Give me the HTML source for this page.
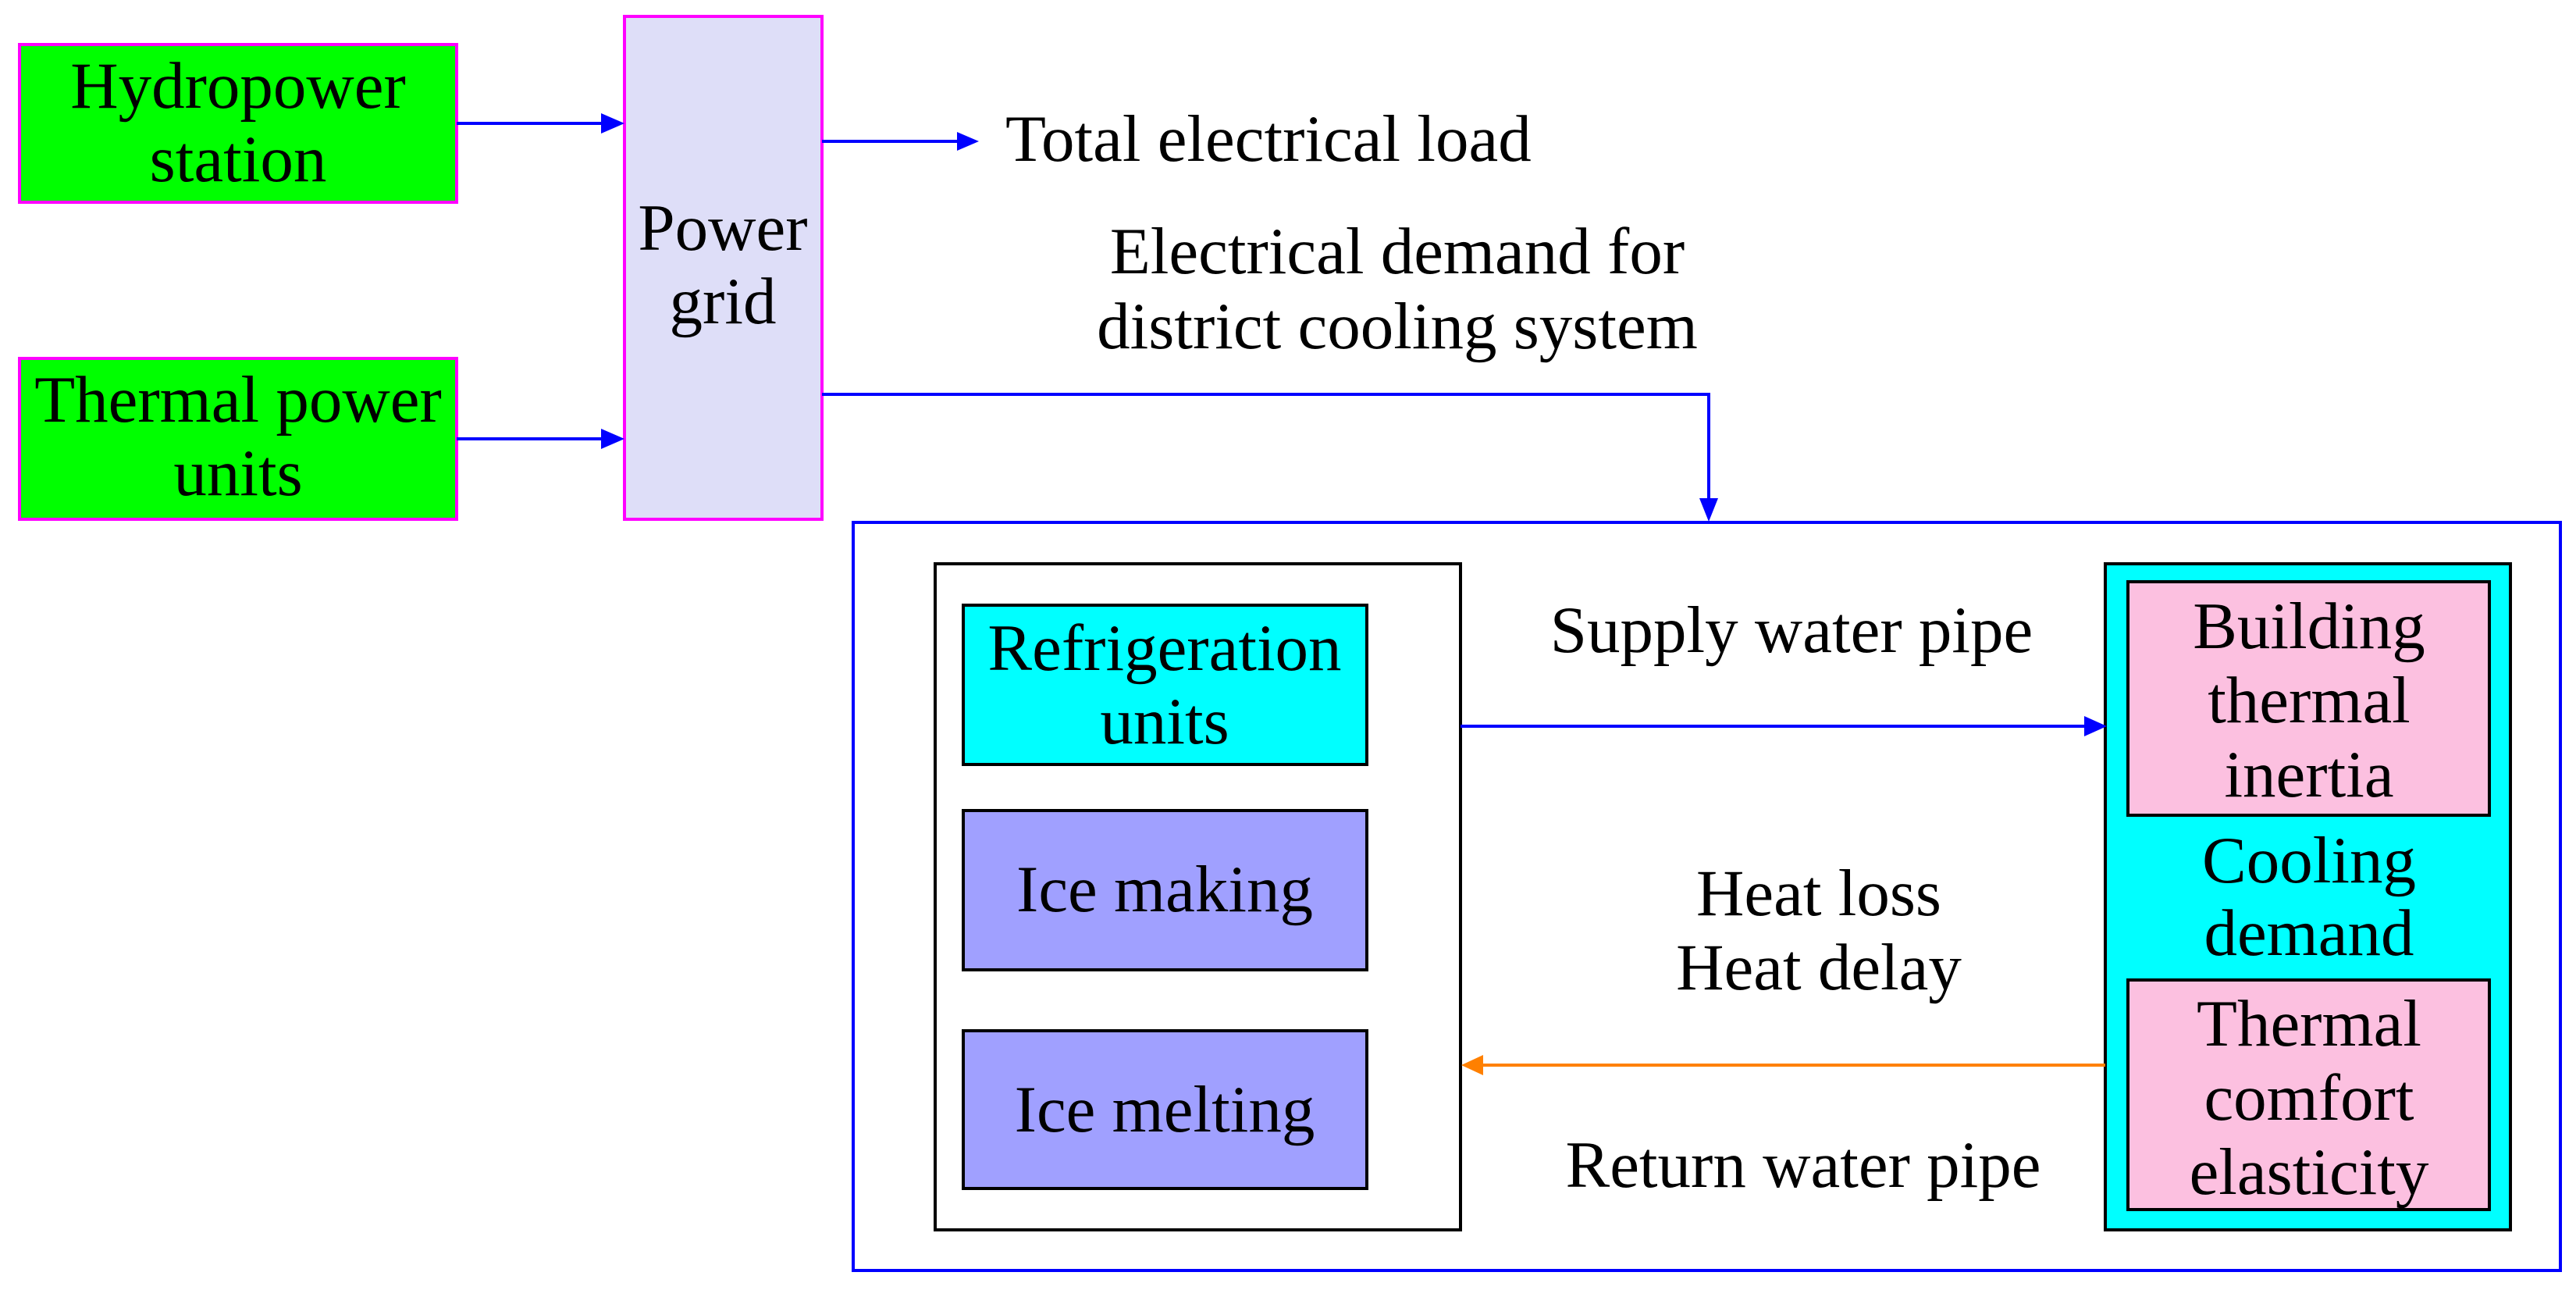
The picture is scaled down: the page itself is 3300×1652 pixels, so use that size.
<!DOCTYPE html>
<html><head><meta charset="utf-8"><style>
html,body{margin:0;padding:0;background:#fff;}
svg{display:block;}
text{font-family:"Liberation Serif",serif;font-size:85px;fill:#000;text-anchor:middle;}
</style></head><body>
<svg width="3300" height="1652" viewBox="0 0 3300 1652" xmlns="http://www.w3.org/2000/svg">
<!-- left sources -->
<rect x="25" y="57" width="560" height="202" fill="#00ff00" stroke="#ff00ff" stroke-width="4"/>
<text x="305" y="138">Hydropower</text>
<text x="305" y="232">station</text>
<rect x="25" y="459" width="560" height="206" fill="#00ff00" stroke="#ff00ff" stroke-width="4"/>
<text x="305" y="540">Thermal power</text>
<text x="305" y="634">units</text>
<rect x="800" y="21" width="253" height="644" fill="#dedef8" stroke="#ff00ff" stroke-width="4"/>
<text x="926" y="320">Power</text>
<text x="926" y="414">grid</text>
<g stroke="#0000ff" stroke-width="4" fill="none">
<line x1="585" y1="158" x2="772" y2="158"/>
<line x1="585" y1="562" x2="772" y2="562"/>
<line x1="1053" y1="181" x2="1230" y2="181"/>
<polyline points="1053,505 2189,505 2189,640"/>
</g>
<g fill="#0000ff">
<path d="M770,145 L800,158 L770,171 z"/>
<path d="M770,549 L800,562 L770,575 z"/>
<path d="M1226,169 L1254,181 L1226,193 z"/>
<path d="M2177,638 L2189,668 L2201,638 z"/>
</g>
<text x="1288" y="206" style="text-anchor:start">Total electrical load</text>
<text x="1790" y="350">Electrical demand for</text>
<text x="1790" y="446">district cooling system</text>
<!-- outer box -->
<rect x="1093" y="669" width="2187" height="958" fill="none" stroke="#0000ff" stroke-width="4"/>
<rect x="1198" y="722" width="673" height="853" fill="#fff" stroke="#000" stroke-width="4"/>
<rect x="1234" y="775" width="517" height="204" fill="#00ffff" stroke="#000" stroke-width="4"/>
<text x="1492" y="858">Refrigeration</text>
<text x="1492" y="952">units</text>
<rect x="1234" y="1038" width="517" height="204" fill="#a0a0ff" stroke="#000" stroke-width="4"/>
<text x="1492" y="1167">Ice making</text>
<rect x="1234" y="1320" width="517" height="202" fill="#a0a0ff" stroke="#000" stroke-width="4"/>
<text x="1492" y="1449">Ice melting</text>
<rect x="2697" y="722" width="519" height="853" fill="#00ffff" stroke="#000" stroke-width="4"/>
<rect x="2726" y="745" width="463" height="299" fill="#fcc0e0" stroke="#000" stroke-width="4"/>
<text x="2958" y="830">Building</text>
<text x="2958" y="925">thermal</text>
<text x="2958" y="1020">inertia</text>
<text x="2958" y="1130">Cooling</text>
<text x="2958" y="1223">demand</text>
<rect x="2726" y="1255" width="463" height="294" fill="#fcc0e0" stroke="#000" stroke-width="4"/>
<text x="2958" y="1339">Thermal</text>
<text x="2958" y="1434">comfort</text>
<text x="2958" y="1529">elasticity</text>
<line x1="1871" y1="930" x2="2672" y2="930" stroke="#0000ff" stroke-width="4"/>
<path d="M2670,917 L2699,930 L2670,943 z" fill="#0000ff"/>
<line x1="2697" y1="1364" x2="1896" y2="1364" stroke="#ff8000" stroke-width="4"/>
<path d="M1900,1351 L1872,1364 L1900,1377 z" fill="#ff8000"/>
<text x="2295" y="835">Supply water pipe</text>
<text x="2330" y="1172">Heat loss</text>
<text x="2330" y="1267">Heat delay</text>
<text x="2310" y="1520">Return water pipe</text>
</svg>
</body></html>
